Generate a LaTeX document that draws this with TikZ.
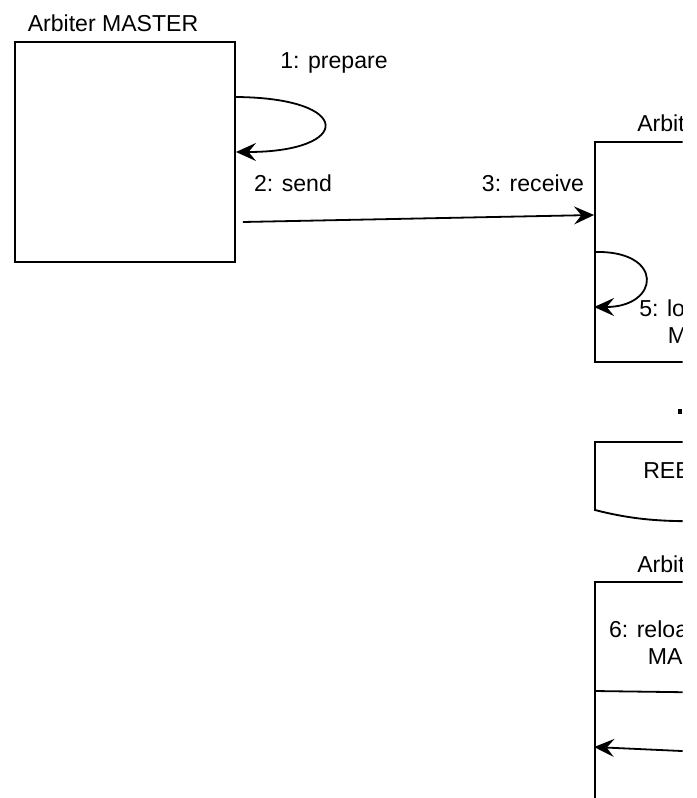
\documentclass[tikz,border=0pt]{standalone}
\usepackage{fontspec}
\setmainfont{Liberation Sans}
\usetikzlibrary{positioning,arrows.meta}

\begin{document}
\begin{tikzpicture}[x=0.75pt,y=-0.75pt,
                    box/.style={draw,line width=1.4pt,minimum width=165pt,minimum height=165pt,inner sep=0pt},
                    lbl/.style={font=\fontsize{17.3}{20.5}\selectfont,inner sep=0pt},
                    conn/.style={line width=1.35pt},
                    arr/.style={conn,-{Stealth[length=15pt,width=13.5pt,inset=5.5pt]}}]
                            \useasboundingbox (0,0) rectangle (696,798);
                            \clip (0,0) rectangle (682.5,798);

                            \node[box]                  (master)   at (125,152) {};
                            \node[box]                  (slave)    at (705,252) {};
                            \node[box,minimum height=210pt] (reload) at (705,722) {};

                            \node[lbl]                  (master_t) at (113,23)  {Arbiter MASTER};
                            \node[lbl,anchor=west]      (slave_t)  at (637,123) {Arbiter SLAVE};
                            \node[lbl,anchor=west]      (reload_t) at (637,564) {Arbiter SLAVE};

                            \node[lbl]                  (prepare)  at (334,63)  {1: prepare};
                            \node[lbl]                  (send)     at (293,183) {2: send};
                            \node[lbl]                  (receive)  at (533,183) {3: receive};
                            \node[lbl,align=center]     (load)     at (716,322) {5: load state of\\MASTER};
                            \node[lbl,anchor=west]      (rebal)    at (643,471) {REBALANCE};
                            \node[lbl,align=center]     (reload_m) at (696,643) {6: reload state of\\MASTER};
                            % \draw[help lines] (0,0) grid[step=50] (696,798);

                            % document shape
                            \draw[line width=1.4pt] (815,442) -- (595,442) -- (595,510)
                                .. controls (630,519) and (660,522) .. (705,521)
                                .. controls (750,520) and (780,505) .. (815,500) -- cycle;
                            \fill (677.5,409) rectangle (681.5,414);

                            \coordinate (back) at (780,755.5);
                            \coordinate (split) at (815,694);

                            \draw[arr] ([yshift=41.25pt]master.east)
                                .. controls (355,98) and (352,152) .. (master.east);
                            \draw[arr] ([xshift=5.25pt,yshift=-52.5pt]master.east) -- ([yshift=27.75pt]slave.west);
                            \draw[arr] (slave.west)
                                .. controls (665,250) and (660,307) .. ([yshift=-41.25pt]slave.west);
                            \draw[conn] ([yshift=23.25pt]reload.west) -- (split);
                            \draw[arr] (back) -- ([yshift=-18.75pt]reload.west);
                        \end{tikzpicture}
\end{document}
